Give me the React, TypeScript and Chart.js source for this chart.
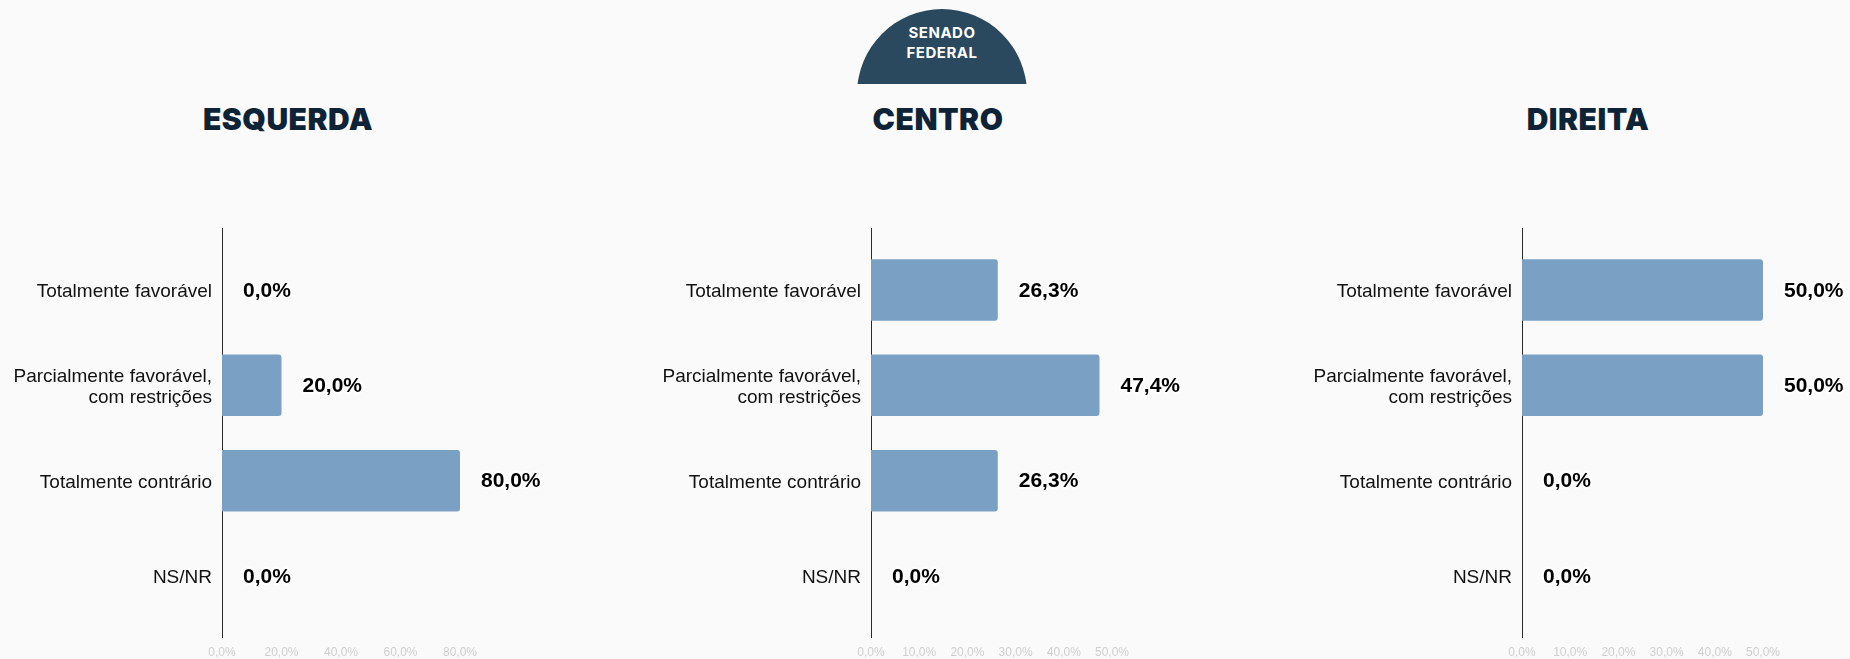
import React, { useEffect, useRef } from "react";
import { Chart, registerables } from "chart.js";

Chart.register(...registerables);

// ---------- data ----------
const categories: string[][] = [
  ["Totalmente favorável"],
  ["Parcialmente favorável,", "com restrições"],
  ["Totalmente contrário"],
  ["NS/NR"],
];
const panelTitles = ["ESQUERDA", "CENTRO", "DIREITA"];
const esquerdaValues = [0, 20, 80, 0];
const centroValues = [26.3, 47.4, 26.3, 0];
const direitaValues = [50, 50, 0, 0];
const xAxisMax = [80, 50, 50];
const xAxisStep = [20, 10, 10];
const badgeLines = ["SENADO", "FEDERAL"];

const BAR_COLOR = "#7aa1c3";
const TITLE_COLOR = "#0e2436";
const BG = "#fafafa";

const fmt = (v: number) => v.toFixed(1).replace(".", ",") + "%";

const valueLabels = {
  id: "valueLabels",
  afterDatasetsDraw(chart: any) {
    const ctx = chart.ctx;
    const meta = chart.getDatasetMeta(0);
    const data = chart.data.datasets[0].data as any[];
    ctx.save();
    ctx.font = 'bold 21px "Liberation Sans", Arial, sans-serif';
    ctx.textAlign = "left";
    ctx.textBaseline = "middle";
    ctx.lineJoin = "round";
    meta.data.forEach((bar: any, i: number) => {
      const text = fmt(data[i].x);
      const x = bar.x + 21;
      const y = bar.y + 1;
      ctx.lineWidth = 4;
      ctx.strokeStyle = "rgba(255,255,255,0.95)";
      ctx.strokeText(text, x, y);
      ctx.fillStyle = "#000";
      ctx.fillText(text, x, y);
    });
    ctx.restore();
  },
};

interface PanelProps {
  values: number[];
  xMax: number;
  step: number;
  left: number;
  width: number;
  axisWidth: number;
  padRight: number;
}

function Panel({ values, xMax, step, left, width, axisWidth, padRight }: PanelProps) {
  const ref = useRef<HTMLCanvasElement | null>(null);
  useEffect(() => {
    if (!ref.current) return;
    const chart = new Chart(ref.current, {
      type: "bar",
      data: {
        datasets: [
          {
            data: values.map((v, i) => ({ x: v, y: i })) as any,
            backgroundColor: BAR_COLOR,
            borderRadius: 3,
            borderSkipped: "start",
            barPercentage: 0.645,
            categoryPercentage: 1,
          },
        ],
      },
      options: {
        indexAxis: "y",
        animation: false,
        responsive: true,
        maintainAspectRatio: false,
        layout: { padding: { top: 28, right: padRight, bottom: 0, left: 0 } },
        plugins: { legend: { display: false }, tooltip: { enabled: false } },
        scales: {
          x: {
            type: "linear",
            min: 0,
            max: xMax,
            offset: false,
            grid: { display: false, drawTicks: false },
            border: { display: false },
            ticks: {
              stepSize: step,
              padding: 8,
              color: "#cfcfcf",
              font: { size: 12, family: '"Liberation Sans", Arial, sans-serif' },
              callback: (v: any) => fmt(Number(v)),
            },
            afterFit: (s: any) => {
              s.height = 22;
            },
          },
          y: {
            type: "linear",
            reverse: true,
            offset: false,
            min: -0.65,
            max: 3.64,
            grid: { display: false, drawTicks: false, offset: false },
            border: { display: true, color: "#2a2a2a", width: 1 },
            ticks: {
              stepSize: 1,
              includeBounds: false,
              autoSkip: false,
              padding: 10,
              labelOffset: 2,
              color: "#111",
              font: { size: 19, family: '"Liberation Sans", Arial, sans-serif', lineHeight: 1.15 },
              callback: (v: any) => {
                const n = Number(v);
                const i = Math.round(n);
                if (Math.abs(n - i) > 1e-6 || i < 0 || i >= categories.length) return "";
                return categories[i];
              },
            },
            afterFit: (s: any) => {
              s.width = axisWidth;
            },
          },
        },
      } as any,
      plugins: [valueLabels],
    });
    return () => chart.destroy();
  }, []);
  return (
    <div style={{ position: "absolute", left, top: 200, width, height: 459 }}>
      <canvas ref={ref} />
    </div>
  );
}

const titleCenters = [288, 938, 1588];

export default function App() {
  return (
    <div
      style={{
        position: "absolute",
        left: 0,
        top: 0,
        width: 1850,
        height: 659,
        background: BG,
        overflow: "hidden",
      }}
    >
      {/* badge */}
      <div
        style={{
          position: "absolute",
          left: 857,
          top: 9,
          width: 170,
          height: 75,
          overflow: "hidden",
        }}
      >
        <div
          style={{
            position: "absolute",
            left: 0,
            top: 0,
            width: 170,
            height: 170,
            borderRadius: "50%",
            background: "#2a495e",
          }}
        />
        <div
          style={{
            position: "absolute",
            left: 0,
            top: 14,
            width: 170,
            textAlign: "center",
            color: "#fff",
            fontFamily: "Inter, sans-serif",
            fontWeight: 700,
            fontSize: 15,
            lineHeight: "20px",
            letterSpacing: 0.5,
          }}
        >
          {badgeLines.map((l) => (
            <div key={l}>{l}</div>
          ))}
        </div>
      </div>
      {panelTitles.map((t, i) => (
        <div
          key={t}
          style={{
            position: "absolute",
            left: titleCenters[i] - 200,
            top: 99,
            width: 400,
            textAlign: "center",
            color: TITLE_COLOR,
            fontFamily: "Inter, sans-serif",
            fontWeight: 900,
            fontSize: 30,
            lineHeight: "40px",
            letterSpacing: 0.5,
          }}
        >
          {t}
        </div>
      ))}
      <Panel values={esquerdaValues} xMax={xAxisMax[0]} step={xAxisStep[0]} left={0} width={616} axisWidth={222} padRight={156} />
      <Panel values={centroValues} xMax={xAxisMax[1]} step={xAxisStep[1]} left={617} width={617} axisWidth={254} padRight={122} />
      <Panel values={direitaValues} xMax={xAxisMax[2]} step={xAxisStep[2]} left={1234} width={616} axisWidth={288} padRight={87} />
    </div>
  );
}
